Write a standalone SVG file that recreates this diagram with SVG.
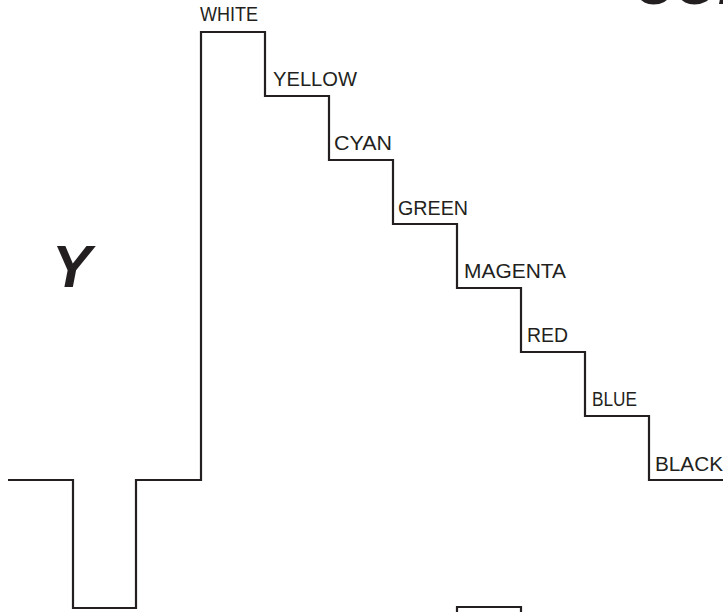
<svg xmlns="http://www.w3.org/2000/svg" width="723" height="612" viewBox="0 0 723 612">
<style>
.wave{fill:none;stroke:#231f20;stroke-width:2.2;stroke-linejoin:miter;stroke-linecap:butt}
.lbl{font-family:"Liberation Sans",Arial,sans-serif;font-size:20px;fill:#231f20}
.big{font-family:"Liberation Sans",Arial,sans-serif;font-weight:bold;font-style:italic;fill:#231f20}
</style>
<rect width="723" height="612" fill="#ffffff"/>
<g id="title"><text class="big" x="634" y="4" font-size="56">COM</text></g>
<g id="y-label"><text class="big" x="52" y="287" font-size="59">Y</text></g>
<g id="connectors">
<path class="wave" d="M8 480 H73 V608 H136 V480 H201 V32 H265 V96 H329 V160 H393 V224 H457 V288 H521 V352 H585 V416 H649 V480 H723"/>
<path class="wave" d="M457 613 V607 H521 V613"/>
</g>
<g id="white"><text class="lbl" x="200" y="21" textLength="58" lengthAdjust="spacingAndGlyphs">WHITE</text></g>
<g id="yellow"><text class="lbl" x="273" y="86" textLength="84" lengthAdjust="spacingAndGlyphs">YELLOW</text></g>
<g id="cyan"><text class="lbl" x="334" y="150" textLength="58" lengthAdjust="spacingAndGlyphs">CYAN</text></g>
<g id="green"><text class="lbl" x="398" y="215" textLength="70" lengthAdjust="spacingAndGlyphs">GREEN</text></g>
<g id="magenta"><text class="lbl" x="464" y="278" textLength="102" lengthAdjust="spacingAndGlyphs">MAGENTA</text></g>
<g id="red"><text class="lbl" x="527" y="342" textLength="41" lengthAdjust="spacingAndGlyphs">RED</text></g>
<g id="blue"><text class="lbl" x="592" y="406" textLength="45" lengthAdjust="spacingAndGlyphs">BLUE</text></g>
<g id="black"><text class="lbl" x="655" y="471" textLength="68" lengthAdjust="spacingAndGlyphs">BLACK</text></g>
</svg>
